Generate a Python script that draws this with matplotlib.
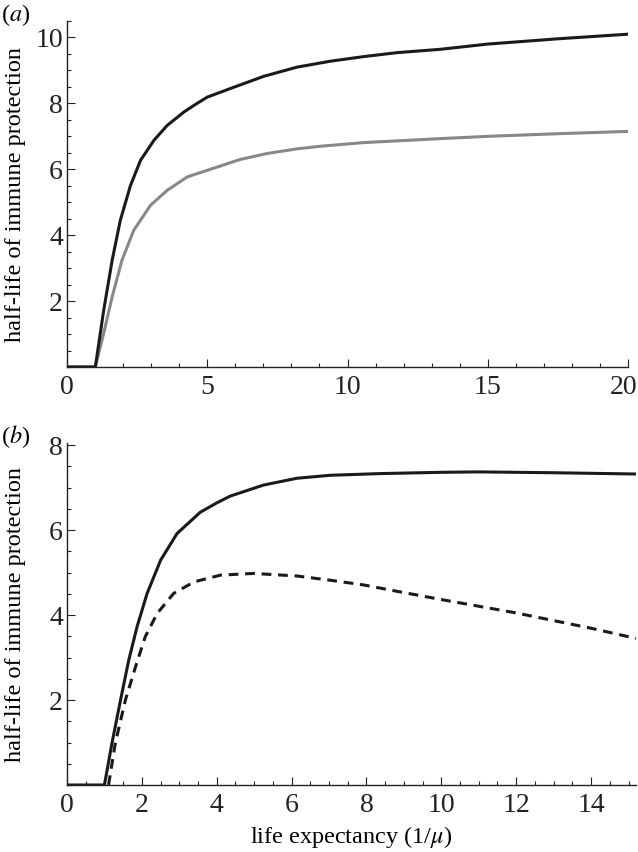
import matplotlib.pyplot as plt
import matplotlib.transforms as mtransforms
from matplotlib.ticker import MultipleLocator

# panel (a): half-life against life expectancy, two parameter sets
a_x_black = [0, 1.01, 1.31, 1.61, 1.90, 2.26, 2.62, 3.10, 3.57, 4.17, 4.6, 5.0, 5.82, 7.01, 8.2, 9.39,
             10.58, 11.77, 13.3, 15, 17.5, 20]
a_y_black = [0, 0, 1.73, 3.24, 4.45, 5.5, 6.27, 6.88, 7.33, 7.74, 7.98, 8.19, 8.45, 8.82, 9.1, 9.28,
             9.42, 9.54, 9.64, 9.8, 9.96, 10.1]
a_x_gray = [0, 1.01, 1.31, 1.61, 1.96, 2.38, 2.98, 3.57, 4.29, 5.36, 6.18, 7.14, 8.2, 9.04, 10.58,
            13.3, 15, 17.5, 20]
a_y_gray = [0, 0, 1.03, 2.13, 3.24, 4.15, 4.91, 5.36, 5.77, 6.07, 6.3, 6.48, 6.62, 6.7, 6.81,
            6.93, 7.0, 7.08, 7.15]

# panel (b): solid and dashed curves
b_x_solid = [0, 1.0, 1.2, 1.43, 1.65, 1.87, 2.14, 2.5, 2.94, 3.56, 4.0, 4.36, 5.25, 6.14, 7.03,
             8.37, 10.0, 11, 13, 15.2]
b_y_solid = [0, 0, 0.98, 2.0, 2.94, 3.72, 4.51, 5.29, 5.92, 6.42, 6.64, 6.8, 7.06, 7.22, 7.29,
             7.33, 7.36, 7.37, 7.35, 7.32]
b_x_dash = [1.11, 1.29, 1.56, 1.83, 2.09, 2.41, 2.85, 3.39, 4.10, 4.99, 6.14, 7.03, 7.92, 8.81,
            9.97, 12, 14, 15.2]
b_y_dash = [0, 0.98, 2.0, 2.78, 3.49, 4.04, 4.51, 4.78, 4.94, 4.98, 4.92, 4.82, 4.71, 4.56,
            4.37, 4.05, 3.69, 3.45]

plt.rcParams['font.family'] = ['Liberation Serif', 'DejaVu Serif']
plt.rcParams['mathtext.fontset'] = 'stix'
tick_fs = 20
label_fs = 17.5

fig = plt.figure(figsize=(6.38, 8.52), dpi=100)
ax1 = fig.add_axes([67/638, 1 - 367/852, 561/638, 346/852])
ax2 = fig.add_axes([67/638, 1 - 785/852, 569/638, 342/852])


def style(ax):
    for s in ['top', 'right']:
        ax.spines[s].set_visible(False)
    for s in ['left', 'bottom']:
        ax.spines[s].set_linewidth(1.0)
        ax.spines[s].set_color('#222222')
    ax.tick_params(which='both', direction='in', colors='#222222', labelsize=tick_fs,
                   labelcolor='#222222', width=0.8)
    ax.tick_params(which='major', length=6)
    ax.tick_params(which='minor', length=3)
    ax.tick_params(axis='x', which='major', pad=6)
    ax.tick_params(axis='y', which='major', pad=3)


kw = dict(lw=2.2, solid_joinstyle='round', solid_capstyle='butt')
ax1.plot(a_x_gray, a_y_gray, color='#888888', **kw)
ax1.plot(a_x_black, a_y_black, color='#1a1a1a', **kw)
ax1.set_xlim(0, 20)
ax1.set_ylim(0, 10.5)
ax1.set_xticks([0, 5, 10, 15, 20])
ax1.set_yticks([2, 4, 6, 8, 10])
ax1.xaxis.set_minor_locator(MultipleLocator(1))
ax1.yaxis.set_minor_locator(MultipleLocator(0.5))
style(ax1)
ax1.set_ylabel('half-life of immune protection', fontsize=label_fs)
ax1.yaxis.set_label_coords(-41/561, 0.5)
# keep the last "20" inside the picture, as in the original
last = ax1.get_xticklabels()[-1]
last.set_transform(last.get_transform() + mtransforms.ScaledTranslation(-4/100, 0, fig.dpi_scale_trans))

ax2.plot(b_x_solid, b_y_solid, color='#1a1a1a', **kw)
ax2.plot(b_x_dash, b_y_dash, color='#1a1a1a', lw=2.2, dashes=(3.2, 2.2))
ax2.set_xlim(0, 15.2)
ax2.set_ylim(0, 8.05)
ax2.set_xticks([0, 2, 4, 6, 8, 10, 12, 14])
ax2.set_yticks([2, 4, 6, 8])
ax2.xaxis.set_minor_locator(MultipleLocator(0.5))
ax2.yaxis.set_minor_locator(MultipleLocator(0.5))
style(ax2)
ax2.set_ylabel('half-life of immune protection', fontsize=label_fs)
ax2.yaxis.set_label_coords(-41/569, 0.5)
ax2.set_xlabel(r'life expectancy (1/$\mu$)', fontsize=label_fs, labelpad=4)

fig.text(0.002, 0.998, r'($\it{a}$)', fontsize=label_fs, va='top', ha='left')
fig.text(0.002, 0.504, r'($\it{b}$)', fontsize=label_fs, va='top', ha='left')

fig.savefig('out.png', dpi=100)
